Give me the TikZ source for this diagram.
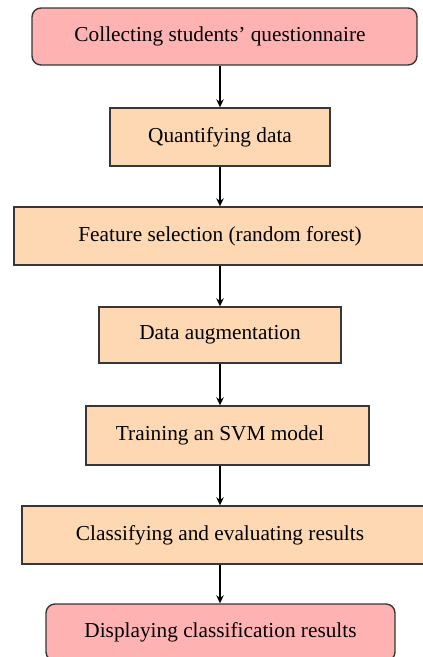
\documentclass[tikz,border=0pt]{standalone}
\usepackage{fontspec}
\setmainfont{Liberation Serif}
\usetikzlibrary{arrows.meta}
\definecolor{pinkfill}{RGB}{255,178,178}
\definecolor{peachfill}{RGB}{253,216,178}
\definecolor{edgegray}{RGB}{55,55,55}
\begin{document}
\begin{tikzpicture}[x=1pt,y=-1pt,
  basebox/.style={draw=edgegray, line width=1.4pt, inner sep=0pt,
    font=\fontsize{21.3}{25}\selectfont},
  pinkbox/.style={basebox, fill=pinkfill, rounded corners=9pt},
  peachbox/.style={basebox, fill=peachfill},
  arr/.style={draw=black, line width=1.2pt, -{Stealth[length=8pt,width=7.5pt]}}]
\useasboundingbox (0,0) rectangle (423,657);
\coordinate (ax) at (220,0);
\node[pinkbox, minimum width=385pt, minimum height=57pt] (b1) at (224.5,36.5)
  {Collecting students’ questionnaire\hspace*{9pt}};
\node[peachbox, minimum width=220pt, minimum height=58pt] (b2) at (220,137)
  {Quantifying data};
\node[peachbox, minimum width=418pt, minimum height=58pt] (b3) at (223,236)
  {Feature selection (random forest)\hspace*{6pt}};
\node[peachbox, minimum width=242pt, minimum height=56pt] (b4) at (220,335)
  {Data augmentation};
\node[peachbox, minimum width=283pt, minimum height=59pt] (b5) at (227.5,435.5)
  {Training an SVM model\hspace*{15pt}};
\node[peachbox, minimum width=410pt, minimum height=58pt] (b6) at (227,535)
  {Classifying and evaluating results\hspace*{14pt}};
\node[pinkbox, minimum width=349pt, minimum height=57pt] (b7) at (220.5,632.5)
  {\raisebox{3pt}{Displaying classification results}};
\draw[arr] (b1.south -| ax) -- (b2.north -| ax);
\draw[arr] (b2.south -| ax) -- (b3.north -| ax);
\draw[arr] (b3.south -| ax) -- (b4.north -| ax);
\draw[arr] (b4.south -| ax) -- (b5.north -| ax);
\draw[arr] (b5.south -| ax) -- (b6.north -| ax);
\draw[arr] (b6.south -| ax) -- (b7.north -| ax);
\end{tikzpicture}
\end{document}
